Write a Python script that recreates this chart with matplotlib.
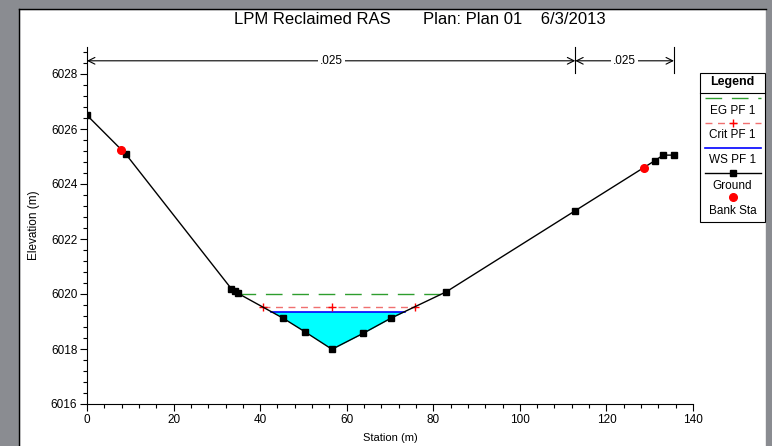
#!/usr/bin/env python3
"""HEC-RAS style cross section plot: LPM Reclaimed RAS, Plan 01."""

import matplotlib

matplotlib.use("Agg")
import matplotlib.pyplot as plt
from matplotlib.patches import Rectangle
from matplotlib.ticker import MultipleLocator
import numpy as np

# ground profile (station m, elevation m)
ground_sta = [0.0, 9.0, 33.3, 34.2, 34.8, 45.3, 50.3, 56.6, 63.8, 70.2,
              83.0, 112.8, 131.2, 133.1, 135.6]
ground_elev = [6026.5, 6025.08, 6020.2, 6020.11, 6020.03, 6019.12, 6018.63,
               6017.99, 6018.57, 6019.12, 6020.08, 6023.03, 6024.85, 6025.05,
               6025.05]
bank_sta = [7.8, 128.7]
bank_elev = [6025.24, 6024.6]

eg_elev = 6020.0
crit_elev = 6019.53
ws_elev = 6019.36

# manning's n regions
n_breaks = [0.0, 112.8, 135.6]
n_values = [".025", ".025"]

title = "LPM Reclaimed RAS       Plan: Plan 01    6/3/2013"
legend_labels = ["EG PF 1", "Crit PF 1", "WS PF 1", "Ground", "Bank Sta"]

W, H = 772, 446


def crossings(sta, elev, level):
    """Stations where the ground line crosses a water level."""
    out = []
    for i in range(len(sta) - 1):
        a, b = elev[i] - level, elev[i + 1] - level
        if a == 0:
            out.append(sta[i])
        elif a * b < 0:
            out.append(sta[i] + (sta[i + 1] - sta[i]) * a / (a - b))
    return out


def px(x, y):
    return x / W, 1 - y / H


plt.rcParams.update({"font.family": ["Liberation Sans", "DejaVu Sans"],
                     "font.size": 8})
fig = plt.figure(figsize=(W / 100, H / 100), dpi=100)

# gray window frame
gray = "#8a8c91"
fig.patches.append(Rectangle((0, 0), 19 / W, 1, transform=fig.transFigure,
                             color=gray, zorder=0))
fig.patches.append(Rectangle((0, 1 - 9 / H), 1, 9 / H, transform=fig.transFigure,
                             color=gray, zorder=0))
fig.patches.append(Rectangle((766 / W, 0), 6 / W, 1, transform=fig.transFigure,
                             color=gray, zorder=0))
fig.lines.append(plt.Line2D([19 / W, 19 / W], [0, 1 - 9 / H],
                            transform=fig.transFigure, color="black", lw=1))
fig.lines.append(plt.Line2D([19 / W, 766 / W], [1 - 9 / H, 1 - 9 / H],
                            transform=fig.transFigure, color="black", lw=1))

x0, y0 = px(87, 404)
x1, y1 = px(693, 46.5)
ax = fig.add_axes([x0, y0, x1 - x0, y1 - y0])
ax.set_xlim(0, 140)
for side in ("top", "right"):
    ax.spines[side].set_visible(False)
ax.set_yticks(np.arange(6016, 6029, 2))
ax.xaxis.set_major_locator(MultipleLocator(20))
ax.xaxis.set_minor_locator(MultipleLocator(4))
ax.yaxis.set_minor_locator(MultipleLocator(0.4))
ax.tick_params(which="major", length=5, width=0.8, labelsize=8.5, pad=2)
ax.tick_params(which="minor", length=3, width=0.8)
ax.set_ylim(6016, 6029)

# water
gs = np.array(ground_sta)
ge = np.array(ground_elev)
ax.fill_between(gs, ge, ws_elev, where=ge <= ws_elev, interpolate=True,
                color="#00ffff", lw=0, zorder=1)
ws_x = crossings(ground_sta, ground_elev, ws_elev)
ax.plot([ws_x[0], ws_x[-1]], [ws_elev] * 2, color="#0000ff", lw=1.2, zorder=3)

eg_x = crossings(ground_sta, ground_elev, eg_elev)
ax.plot([eg_x[0], eg_x[-1]], [eg_elev] * 2, color="#2e9e2e", lw=1,
        dashes=(12, 7), zorder=3)

cr_x = crossings(ground_sta, ground_elev, crit_elev)
cr_pts = [cr_x[0], ground_sta[int(np.argmin(ground_elev))], cr_x[-1]]
ax.plot([cr_x[0], cr_x[-1]], [crit_elev] * 2, color="#f07070", lw=1,
        dashes=(5, 4), zorder=3)
ax.plot(cr_pts, [crit_elev] * 3, ls="none", marker="+", color="red",
        ms=6, mew=1, zorder=4)

ax.plot(ground_sta, ground_elev, color="black", lw=1, marker="s", ms=4,
        zorder=5)
ax.plot(bank_sta, bank_elev, ls="none", marker="o", color="red", ms=5.5,
        zorder=6)

# manning's n arrows
arrow_y = 6028.48
for left, right, label in zip(n_breaks[:-1], n_breaks[1:], n_values):
    ax.annotate("", xy=(left, arrow_y), xytext=(right, arrow_y),
                arrowprops=dict(arrowstyle="<->", lw=0.8, color="black",
                                shrinkA=0, shrinkB=0, mutation_scale=12),
                annotation_clip=False)
    ax.text((left + right) / 2, arrow_y, label, ha="center", va="center",
            fontsize=8.5, bbox=dict(fc="white", ec="none", pad=1.5), zorder=6)
for b in n_breaks[1:]:
    ax.plot([b, b], [6028.05, 6029.0], color="black", lw=0.8, clip_on=False)

fig.text(*px(420, 19), title, ha="center", va="center", fontsize=12)
ax.set_xlabel("Station (m)", fontsize=8, labelpad=5)
ax.set_ylabel("Elevation (m)", fontsize=8.5, labelpad=8)

# legend box
lx0, lx1 = 700, 765
fig.patches.append(Rectangle(px(lx0, 222), (lx1 - lx0) / W, (222 - 73) / H,
                             transform=fig.transFigure, fc="white", ec="black",
                             lw=0.8, zorder=5))
fig.text(*px((lx0 + lx1) / 2, 82), "Legend", ha="center", va="center",
         fontsize=9, fontweight="bold", zorder=6)
fig.lines.append(plt.Line2D([lx0 / W, lx1 / W], [1 - 93 / H] * 2,
                            transform=fig.transFigure, color="black", lw=0.8,
                            zorder=6))
sx = [705 / W, 761 / W]
fig.lines.append(plt.Line2D(sx, [1 - 98 / H] * 2, transform=fig.transFigure,
                            color="#2e9e2e", lw=1, dashes=(12, 7), zorder=6))
fig.lines.append(plt.Line2D(sx, [1 - 123 / H] * 2, transform=fig.transFigure,
                            color="#f07070", lw=1, dashes=(5, 4), zorder=6))
fig.lines.append(plt.Line2D([np.mean(sx)], [1 - 123 / H], transform=fig.transFigure,
                            color="red", marker="+", ms=6, ls="none", zorder=7))
fig.lines.append(plt.Line2D(sx, [1 - 148 / H] * 2, transform=fig.transFigure,
                            color="#0000ff", lw=1.2, zorder=6))
fig.lines.append(plt.Line2D(sx, [1 - 173 / H] * 2, transform=fig.transFigure,
                            color="black", lw=1, zorder=6))
fig.lines.append(plt.Line2D([np.mean(sx)], [1 - 173 / H], transform=fig.transFigure,
                            color="black", marker="s", ms=4, ls="none", zorder=7))
fig.lines.append(plt.Line2D([np.mean(sx)], [1 - 197 / H], transform=fig.transFigure,
                            color="red", marker="o", ms=5.5, ls="none", zorder=7))
for label, ypix in zip(legend_labels, [111, 135, 160, 186, 211]):
    fig.text(*px((lx0 + lx1) / 2, ypix), label, ha="center", va="center",
             fontsize=8.5, zorder=7)

fig.savefig("out.png", dpi=100)
